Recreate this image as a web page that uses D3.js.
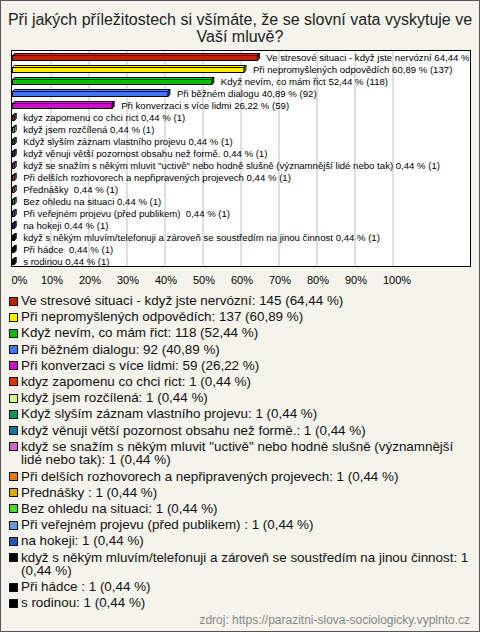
<!DOCTYPE html>
<html><head><meta charset="utf-8">
<script src="https://cdn.jsdelivr.net/npm/d3@7"></script>
<style>
html,body{margin:0;padding:0;background:#fff;}
svg{display:block;}
text{white-space:pre;}
</style></head>
<body>
<svg id="chart" width="480" height="632"></svg>
<script>
const titleLines = ["Při jakých příležitostech si všímáte, že se slovní vata vyskytuje ve", "Vaší mluvě?"];
const categories = [
  "Ve stresové situaci - když jste nervózní",
  "Při nepromyšlených odpovědích",
  "Když nevím, co mám řict",
  "Při běžném dialogu",
  "Při konverzaci s více lidmi",
  "kdyz zapomenu co chci rict",
  "když jsem rozčílená",
  "Když slyším záznam vlastního projevu",
  "když věnuji větší pozornost obsahu než formě.",
  "když se snažím s někým mluvit \"uctivě\" nebo hodně slušně (významnější lidé nebo tak)",
  "Při delších rozhovorech a nepřipravených projevech",
  "Přednášky ",
  "Bez ohledu na situaci",
  "Při veřejném projevu (před publikem) ",
  "na hokeji",
  "když s někým mluvím/telefonuji a zároveň se soustředím na jinou činnost",
  "Při hádce ",
  "s rodinou"
];
const counts = [145, 137, 118, 92, 59, 1, 1, 1, 1, 1, 1, 1, 1, 1, 1, 1, 1, 1];
const percents = [64.44, 60.89, 52.44, 40.89, 26.22, 0.44, 0.44, 0.44, 0.44, 0.44, 0.44, 0.44, 0.44, 0.44, 0.44, 0.44, 0.44, 0.44];
const colors = ["#c0200f", "#ffee00", "#11bb11", "#4477ee", "#cc11cc", "#dd3300", "#ccff88", "#119955",
  "#117799", "#cc66cc", "#ee7711", "#ddaa00", "#44dd22", "#6699dd", "#2255bb", "#000000", "#000000", "#000000"];
const tickValues = [0, 10, 20, 30, 40, 50, 60, 70, 80, 90, 100];
const sourceText = "zdroj: https://parazitni-slova-sociologicky.vyplnto.cz";

const W = 480, H = 632;
const svg = d3.select("#chart");
const fmt = v => d3.format(".2f")(v).replace(".", ",");

// background & frame
svg.append("rect").attr("x", 0.5).attr("y", 0.5).attr("width", W - 1).attr("height", H - 1)
  .attr("fill", "#f4f3ec").attr("stroke", "#555").attr("stroke-width", 1);

// title
svg.append("g").selectAll("text").data(titleLines).join("text")
  .attr("x", 240).attr("y", (d, i) => 25 + i * 17)
  .attr("text-anchor", "middle")
  .attr("font-family", "Liberation Sans, Arial, sans-serif")
  .attr("font-size", 16).attr("fill", "#222").text(d => d);

// plot area
const box = {x0: 11, x1: 470, y0: 50.5, y1: 266.5};
const x = d3.scaleLinear().domain([0, 100]).range([12, 392]);
const y = d3.scaleBand().domain(d3.range(categories.length)).range([51, 267]);

svg.append("rect").attr("x", box.x0 + 0.5).attr("y", box.y0).attr("width", box.x1 - box.x0)
  .attr("height", box.y1 - box.y0).attr("fill", "#fff");

// grid lines via axis
const grid = svg.append("g").attr("transform", `translate(0.5,${box.y0})`)
  .call(d3.axisBottom(x).tickValues(tickValues.filter(v => v > 0)).tickSize(box.y1 - box.y0).tickFormat(""));
grid.select(".domain").remove();
grid.selectAll("line").attr("stroke", "#c0c0c0");

svg.append("rect").attr("x", box.x0 + 0.5).attr("y", box.y0).attr("width", box.x1 - box.x0)
  .attr("height", box.y1 - box.y0).attr("fill", "none").attr("stroke", "#000");

// clip for labels
svg.append("clipPath").attr("id", "plotclip").append("rect")
  .attr("x", box.x0 + 1).attr("y", box.y0).attr("width", box.x1 - box.x0 - 1).attr("height", box.y1 - box.y0);

// 3D bars
const dep = 2, bh = 5;
const bars = svg.append("g").attr("clip-path", "url(#plotclip)");
const rows = bars.selectAll("g.row").data(categories).join("g").attr("class", "row");
rows.each(function(d, i) {
  const g = d3.select(this);
  const c = y(i) + y.bandwidth() / 2;
  const x0 = x(0) + 0.5, x1 = x(percents[i]) + 0.5;
  const top = Math.round(c - 2) + 0.5, bot = top + bh;
  const col = colors[i];
  g.append("path")
    .attr("d", `M${x0},${top}L${x0 + dep},${top - dep}L${x1 + dep},${top - dep}L${x1},${top}Z`)
    .attr("fill", d3.color(col).brighter(0.4)).attr("stroke", "#000").attr("stroke-width", 1);
  g.append("path")
    .attr("d", `M${x1},${top}L${x1 + dep},${top - dep}L${x1 + dep},${bot - dep}L${x1},${bot}Z`)
    .attr("fill", d3.color(col).darker(0.5)).attr("stroke", "#000").attr("stroke-width", 1);
  g.append("rect").attr("x", x0).attr("y", top).attr("width", Math.max(0, x1 - x0)).attr("height", bh)
    .attr("fill", col).attr("stroke", "#000").attr("stroke-width", 1);
  g.append("text")
    .attr("x", x(percents[i]) + 9.5).attr("y", c + 3.5)
    .attr("font-family", "Liberation Sans Narrow, Arial Narrow, Liberation Sans, sans-serif")
    .attr("font-size", 9.6).attr("fill", "#000")
    .text(`${d} ${fmt(percents[i])} % (${counts[i]})`);
});

// axis tick labels
const ax = svg.append("g").attr("transform", `translate(0,${box.y1})`)
  .call(d3.axisBottom(x).tickValues(tickValues).tickSize(0).tickPadding(0).tickFormat(d => d + "%"));
ax.select(".domain").remove();
ax.selectAll("text")
  .attr("text-anchor", "start")
  .attr("x", d => d === 0 ? -1 : -9.5)
  .attr("y", 17.5).attr("dy", 0)
  .attr("font-family", "Liberation Sans Narrow, Arial Narrow, Liberation Sans, sans-serif")
  .attr("font-size", 11).attr("fill", "#000");

// legend
const legend = svg.append("g");
const lx = 21, maxW = 450, itemGap = 16.2, lineGap = 13.5;
let cy = 300.5;
categories.forEach((d, i) => {
  const label = `${d}: ${counts[i]} (${fmt(percents[i])} %)`;
  legend.append("rect").attr("x", 9.5).attr("y", Math.round(cy - 4) + 0.5).attr("width", 8).attr("height", 8)
    .attr("fill", colors[i]).attr("stroke", "#111").attr("stroke-width", 1);
  const t = legend.append("text").attr("x", lx).attr("y", cy + 4.5)
    .attr("font-family", "Liberation Sans, Arial, sans-serif").attr("font-size", 13.4).attr("fill", "#111");
  const words = label.split(" ");
  let line = [], lines = [];
  const probe = t.append("tspan");
  words.forEach(w => {
    const test = line.concat([w]).join(" ");
    probe.text(test);
    if (probe.node().getComputedTextLength() > maxW && line.length) {
      lines.push(line.join(" "));
      line = [w];
    } else line.push(w);
  });
  lines.push(line.join(" "));
  probe.remove();
  lines.forEach((l, k) => {
    t.append("tspan").attr("x", lx).attr("dy", k === 0 ? 0 : lineGap).text(l);
  });
  cy += itemGap + (lines.length - 1) * lineGap;
});

// source
svg.append("text").attr("x", 470).attr("y", 624).attr("text-anchor", "end")
  .attr("font-family", "Liberation Sans, Arial, sans-serif").attr("font-size", 12)
  .attr("fill", "#888").text(sourceText);
</script>
</body></html>
